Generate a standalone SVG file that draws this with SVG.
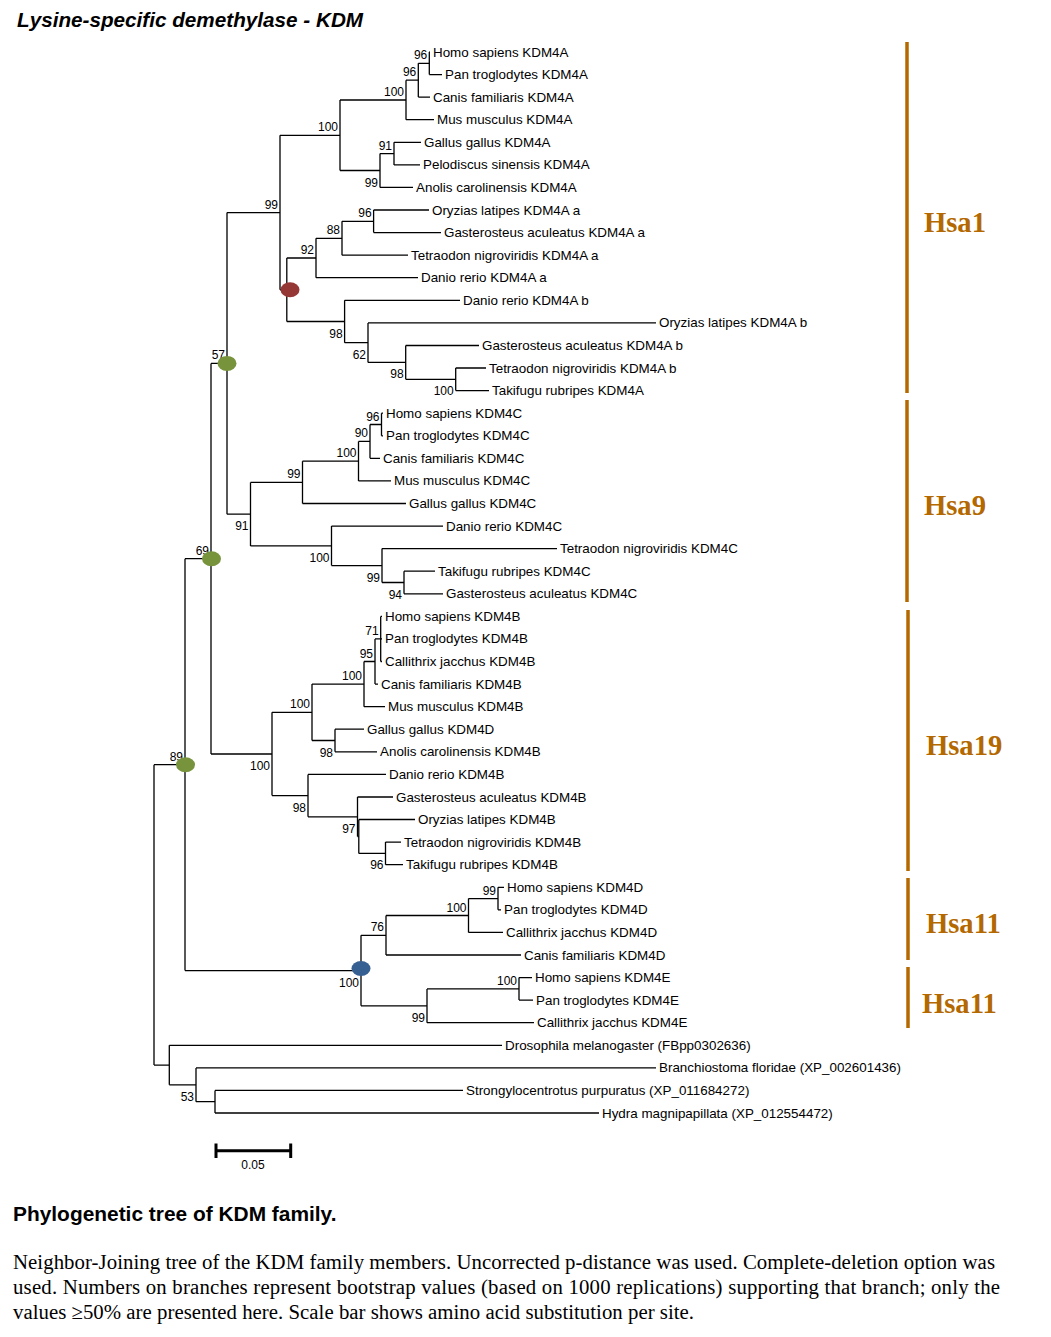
<svg xmlns="http://www.w3.org/2000/svg" width="1051" height="1337" viewBox="0 0 1051 1337">
<style>
.lf{font-family:"Liberation Sans",Arial,sans-serif;font-size:13.4px;fill:#000}
.bs{font-family:"Liberation Sans",Arial,sans-serif;font-size:12px;fill:#000;text-anchor:end}
.br{fill:none;stroke:#000;stroke-width:1.3}
.bar{fill:none;stroke:#b46800;stroke-width:3.5}
.hsa{font-family:"Liberation Serif","Times New Roman",serif;font-weight:bold;font-size:28.6px;fill:#b46800}
.cap{font-family:"Liberation Serif","Times New Roman",serif;font-size:20.8px;fill:#000}
.g{fill:#77933c}.r{fill:#953735}.b{fill:#376092}
</style>
<rect width="1051" height="1337" fill="#fff"/>
<text x="17" y="27" font-family="Liberation Sans,Arial,sans-serif" font-size="20.7" font-weight="bold" font-style="italic">Lysine-specific demethylase - KDM</text>

<g id="connectors" class="br">
<path d="M429.3 52V74.6M429.3 52H430M429.3 74.6H442"/>
<path d="M418.3 63.3V97.1M418.3 63.3H429.3M418.3 97.1H430"/>
<path d="M406 80.2V119.7M406 80.2H418.3M406 119.7H434"/>
<path d="M394 142.3V164.9M394 142.3H421M394 164.9H420"/>
<path d="M380 153.6V187.4M380 153.6H394M380 187.4H413"/>
<path d="M340 100V170.5M340 100H406M340 170.5H380"/>
<path d="M373.6 210V232.6M373.6 210H429M373.6 232.6H441"/>
<path d="M342 221.3V255.2M342 221.3H373.6M342 255.2H408"/>
<path d="M316 238.3V277.7M316 238.3H342M316 277.7H418"/>
<path d="M455.7 368V390.6M455.7 368H486M455.7 390.6H489"/>
<path d="M405.7 345.5V379.3M405.7 345.5H479M405.7 379.3H455.7"/>
<path d="M368 322.9V362.4M368 322.9H656M368 362.4H405.7"/>
<path d="M344.6 300.3V342.7M344.6 300.3H460M344.6 342.7H368"/>
<path d="M286.8 258V321.5M286.8 258H316M286.8 321.5H344.6"/>
<path d="M280 135.3V289.8M280 135.3H340M280 289.8H286.8"/>
<path d="M381.5 413.2V435.8M381.5 413.2H383M381.5 435.8H383"/>
<path d="M370 424.5V458.3M370 424.5H381.5M370 458.3H380"/>
<path d="M358.5 441.4V480.9M358.5 441.4H370M358.5 480.9H391"/>
<path d="M302.5 461.2V503.5M302.5 461.2H358.5M302.5 503.5H406"/>
<path d="M404 571.2V593.8M404 571.2H435M404 593.8H443"/>
<path d="M382 548.6V582.5M382 548.6H557M382 582.5H404"/>
<path d="M331.5 526.1V565.6M331.5 526.1H443M331.5 565.6H382"/>
<path d="M250.5 482.4V545.9M250.5 482.4H302.5M250.5 545.9H331.5"/>
<path d="M227 212.6V514.2M227 212.6H280M227 514.2H250.5"/>
<path d="M380.7 616.4V661.5M380.7 616.4H382M380.7 638.9H382M380.7 661.5H382"/>
<path d="M375 638.9V684.1M375 638.9H380.7M375 684.1H378"/>
<path d="M364 661.5V706.7M364 661.5H375M364 706.7H385"/>
<path d="M335 729.2V751.8M335 729.2H364M335 751.8H377"/>
<path d="M312 684.1V740.5M312 684.1H364M312 740.5H335"/>
<path d="M385.5 842.1V864.7M385.5 842.1H401M385.5 864.7H403"/>
<path d="M358.8 819.5V853.4M358.8 819.5H415M358.8 853.4H385.5"/>
<path d="M357.5 797V836.5M357.5 797H393M357.5 836.5H358.8"/>
<path d="M308 774.4V816.8M308 774.4H386M308 816.8H357.5"/>
<path d="M272 712.3V795.6M272 712.3H312M272 795.6H308"/>
<path d="M211 363.4V754M211 363.4H227M211 754H272"/>
<path d="M498 887.3V909.8M498 887.3H504M498 909.8H501"/>
<path d="M468.5 898.6V932.4M468.5 898.6H498M468.5 932.4H503"/>
<path d="M386 915.5V955M386 915.5H468.5M386 955H521"/>
<path d="M519 977.6V1000.1M519 977.6H532M519 1000.1H533"/>
<path d="M427 988.9V1022.7M427 988.9H519M427 1022.7H534"/>
<path d="M361 935.3V1005.8M361 935.3H386M361 1005.8H427"/>
<path d="M185 558.7V970.6M185 558.7H211M185 970.6H361"/>
<path d="M215 1090.4V1113M215 1090.4H463M215 1113H599"/>
<path d="M196 1067.9V1101.7M196 1067.9H656M196 1101.7H215"/>
<path d="M169.3 1045.3V1084.8M169.3 1045.3H502M169.3 1084.8H196"/>
<path d="M154 764.7V1065.1M154 764.7H185M154 1065.1H169.3"/>
</g>

<g id="leaves" class="lf">
<g id="leaf-hs-kdm4a"><text x="433" y="56.5">Homo sapiens KDM4A</text></g>
<g id="leaf-pt-kdm4a"><text x="445" y="79.1">Pan troglodytes KDM4A</text></g>
<g id="leaf-cf-kdm4a"><text x="433" y="101.6">Canis familiaris KDM4A</text></g>
<g id="leaf-mm-kdm4a"><text x="437" y="124.2">Mus musculus KDM4A</text></g>
<g id="leaf-gg-kdm4a"><text x="424" y="146.8">Gallus gallus KDM4A</text></g>
<g id="leaf-ps-kdm4a"><text x="423" y="169.4">Pelodiscus sinensis KDM4A</text></g>
<g id="leaf-ac-kdm4a"><text x="416" y="191.9">Anolis carolinensis KDM4A</text></g>
<g id="leaf-ol-kdm4a-a"><text x="432" y="214.5">Oryzias latipes KDM4A a</text></g>
<g id="leaf-ga-kdm4a-a"><text x="444" y="237.1">Gasterosteus aculeatus KDM4A a</text></g>
<g id="leaf-tn-kdm4a-a"><text x="411" y="259.7">Tetraodon nigroviridis KDM4A a</text></g>
<g id="leaf-dr-kdm4a-a"><text x="421" y="282.2">Danio rerio KDM4A a</text></g>
<g id="leaf-dr-kdm4a-b"><text x="463" y="304.8">Danio rerio KDM4A b</text></g>
<g id="leaf-ol-kdm4a-b"><text x="659" y="327.4">Oryzias latipes KDM4A b</text></g>
<g id="leaf-ga-kdm4a-b"><text x="482" y="350">Gasterosteus aculeatus KDM4A b</text></g>
<g id="leaf-tn-kdm4a-b"><text x="489" y="372.5">Tetraodon nigroviridis KDM4A b</text></g>
<g id="leaf-tr-kdm4a"><text x="492" y="395.1">Takifugu rubripes KDM4A</text></g>
<g id="leaf-hs-kdm4c"><text x="386" y="417.7">Homo sapiens KDM4C</text></g>
<g id="leaf-pt-kdm4c"><text x="386" y="440.3">Pan troglodytes KDM4C</text></g>
<g id="leaf-cf-kdm4c"><text x="383" y="462.8">Canis familiaris KDM4C</text></g>
<g id="leaf-mm-kdm4c"><text x="394" y="485.4">Mus musculus KDM4C</text></g>
<g id="leaf-gg-kdm4c"><text x="409" y="508">Gallus gallus KDM4C</text></g>
<g id="leaf-dr-kdm4c"><text x="446" y="530.6">Danio rerio KDM4C</text></g>
<g id="leaf-tn-kdm4c"><text x="560" y="553.1">Tetraodon nigroviridis KDM4C</text></g>
<g id="leaf-tr-kdm4c"><text x="438" y="575.7">Takifugu rubripes KDM4C</text></g>
<g id="leaf-ga-kdm4c"><text x="446" y="598.3">Gasterosteus aculeatus KDM4C</text></g>
<g id="leaf-hs-kdm4b"><text x="385" y="620.9">Homo sapiens KDM4B</text></g>
<g id="leaf-pt-kdm4b"><text x="385" y="643.4">Pan troglodytes KDM4B</text></g>
<g id="leaf-cj-kdm4b"><text x="385" y="666">Callithrix jacchus KDM4B</text></g>
<g id="leaf-cf-kdm4b"><text x="381" y="688.6">Canis familiaris KDM4B</text></g>
<g id="leaf-mm-kdm4b"><text x="388" y="711.2">Mus musculus KDM4B</text></g>
<g id="leaf-gg-kdm4d"><text x="367" y="733.7">Gallus gallus KDM4D</text></g>
<g id="leaf-ac-kdm4b"><text x="380" y="756.3">Anolis carolinensis KDM4B</text></g>
<g id="leaf-dr-kdm4b"><text x="389" y="778.9">Danio rerio KDM4B</text></g>
<g id="leaf-ga-kdm4b"><text x="396" y="801.5">Gasterosteus aculeatus KDM4B</text></g>
<g id="leaf-ol-kdm4b"><text x="418" y="824">Oryzias latipes KDM4B</text></g>
<g id="leaf-tn-kdm4b"><text x="404" y="846.6">Tetraodon nigroviridis KDM4B</text></g>
<g id="leaf-tr-kdm4b"><text x="406" y="869.2">Takifugu rubripes KDM4B</text></g>
<g id="leaf-hs-kdm4d"><text x="507" y="891.8">Homo sapiens KDM4D</text></g>
<g id="leaf-pt-kdm4d"><text x="504" y="914.3">Pan troglodytes KDM4D</text></g>
<g id="leaf-cj-kdm4d"><text x="506" y="936.9">Callithrix jacchus KDM4D</text></g>
<g id="leaf-cf-kdm4d"><text x="524" y="959.5">Canis familiaris KDM4D</text></g>
<g id="leaf-hs-kdm4e"><text x="535" y="982.1">Homo sapiens KDM4E</text></g>
<g id="leaf-pt-kdm4e"><text x="536" y="1004.6">Pan troglodytes KDM4E</text></g>
<g id="leaf-cj-kdm4e"><text x="537" y="1027.2">Callithrix jacchus KDM4E</text></g>
<g id="leaf-dm"><text x="505" y="1049.8">Drosophila melanogaster (FBpp0302636)</text></g>
<g id="leaf-bf"><text x="659" y="1072.4">Branchiostoma floridae (XP_002601436)</text></g>
<g id="leaf-sp"><text x="466" y="1094.9">Strongylocentrotus purpuratus (XP_011684272)</text></g>
<g id="leaf-hm"><text x="602" y="1117.5">Hydra magnipapillata (XP_012554472)</text></g>
</g>

<g id="internal-nodes" class="bs">
<g id="n-a-hp"><text x="427.3" y="59.3">96</text></g>
<g id="n-a-hpc"><text x="416.3" y="76.2">96</text></g>
<g id="n-a-mam"><text x="404" y="96">100</text></g>
<g id="n-a-gp"><text x="392" y="149.6">91</text></g>
<g id="n-a-sau"><text x="378" y="186.5">99</text></g>
<g id="n-a-tet"><text x="338" y="131.3">100</text></g>
<g id="n-a-og"><text x="371.6" y="217.3">96</text></g>
<g id="n-a-88"><text x="340" y="234.3">88</text></g>
<g id="n-a-92"><text x="314" y="254">92</text></g>
<g id="n-a-tt"><text x="453.7" y="395.3">100</text></g>
<g id="n-a-gtt"><text x="403.7" y="378.4">98</text></g>
<g id="n-a-62"><text x="366" y="358.7">62</text></g>
<g id="n-a-98"><text x="342.6" y="337.5">98</text></g>
<g id="n-a-red"><ellipse class="r" cx="290" cy="289.8" rx="9.5" ry="7.5"/></g>
<g id="n-a-99"><text x="278" y="208.6">99</text></g>
<g id="n-c-hp"><text x="379.5" y="420.5">96</text></g>
<g id="n-c-90"><text x="368" y="437.4">90</text></g>
<g id="n-c-mam"><text x="356.5" y="457.2">100</text></g>
<g id="n-c-99"><text x="300.5" y="478.4">99</text></g>
<g id="n-c-94"><text x="402" y="598.5">94</text></g>
<g id="n-c-99f"><text x="380" y="581.6">99</text></g>
<g id="n-c-100f"><text x="329.5" y="561.9">100</text></g>
<g id="n-c-91"><text x="248.5" y="530.2">91</text></g>
<g id="n-57"><text x="225" y="359.4">57</text><ellipse class="g" cx="227" cy="363.4" rx="9.5" ry="7.5"/></g>
<g id="n-b-71"><text x="378.7" y="634.9">71</text></g>
<g id="n-b-95"><text x="373" y="657.5">95</text></g>
<g id="n-b-mam"><text x="362" y="680.1">100</text></g>
<g id="n-b-98t"><text x="333" y="756.5">98</text></g>
<g id="n-b-tet"><text x="310" y="708.3">100</text></g>
<g id="n-b-96"><text x="383.5" y="869.4">96</text></g>
<g id="n-b-97"><text x="355.5" y="832.8">97</text></g>
<g id="n-b-98f"><text x="306" y="811.6">98</text></g>
<g id="n-b-100"><text x="270" y="770">100</text></g>
<g id="n-69"><text x="209" y="554.7">69</text><ellipse class="g" cx="211.5" cy="558.7" rx="9.5" ry="7.5"/></g>
<g id="n-d-hp"><text x="496" y="894.6">99</text></g>
<g id="n-d-100"><text x="466.5" y="911.5">100</text></g>
<g id="n-d-76"><text x="384" y="931.3">76</text></g>
<g id="n-e-100"><text x="517" y="984.9">100</text></g>
<g id="n-e-99"><text x="425" y="1021.8">99</text></g>
<g id="n-blue"><text x="359" y="986.6">100</text><ellipse class="b" cx="361" cy="968.5" rx="9.5" ry="7.5"/></g>
<g id="n-89"><text x="183" y="760.7">89</text><ellipse class="g" cx="185.5" cy="764.7" rx="9.5" ry="7.5"/></g>
<g id="n-o-53"><text x="194" y="1100.8">53</text></g>
</g>

<g id="scale-bar">
<path d="M216 1150.7H290.7M216 1143.5V1158M290.7 1143.5V1158" fill="none" stroke="#000" stroke-width="3"/>
<text x="253" y="1169" font-family="Liberation Sans,Arial,sans-serif" font-size="12" text-anchor="middle">0.05</text>
</g>

<g id="groups">
<g id="hsa1"><path class="bar" d="M907 42V393"/><text class="hsa" x="924" y="232">Hsa1</text></g>
<g id="hsa9"><path class="bar" d="M907 400V602"/><text class="hsa" x="924" y="515">Hsa9</text></g>
<g id="hsa19"><path class="bar" d="M908 610V871"/><text class="hsa" x="926" y="755">Hsa19</text></g>
<g id="hsa11a"><path class="bar" d="M908 878V960"/><text class="hsa" x="926" y="933">Hsa11</text></g>
<g id="hsa11b"><path class="bar" d="M908 967V1028"/><text class="hsa" x="922" y="1013">Hsa11</text></g>
</g>

<g id="caption">
<text x="13" y="1221" font-family="Liberation Sans,Arial,sans-serif" font-size="20.9" font-weight="bold">Phylogenetic tree of KDM family.</text>
<text class="cap" x="13" y="1269" textLength="982" lengthAdjust="spacing">Neighbor-Joining tree of the KDM family members. Uncorrected p-distance was used. Complete-deletion option was</text>
<text class="cap" x="13" y="1294" textLength="987" lengthAdjust="spacing">used. Numbers on branches represent bootstrap values (based on 1000 replications) supporting that branch; only the</text>
<text class="cap" x="13" y="1319" textLength="681" lengthAdjust="spacing">values ≥50% are presented here. Scale bar shows amino acid substitution per site.</text>
</g>
</svg>
